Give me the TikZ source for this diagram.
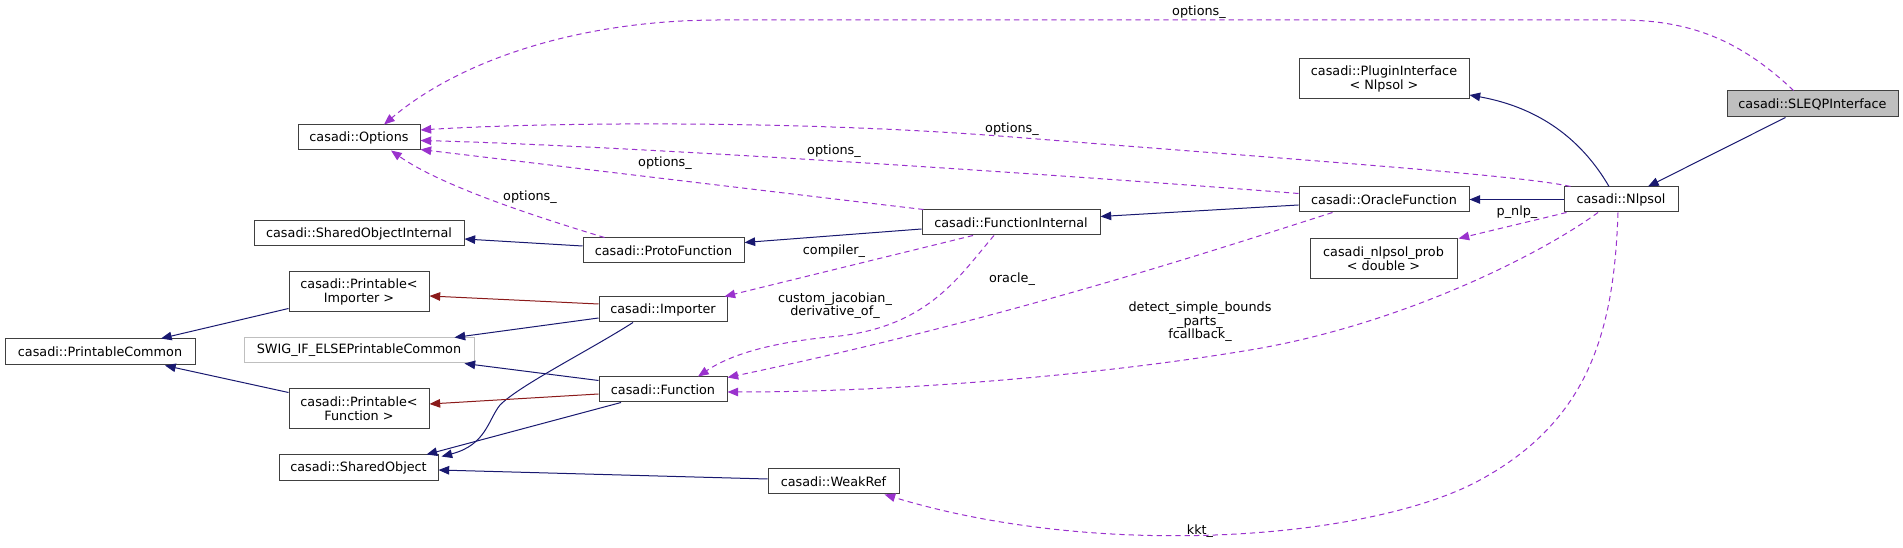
\documentclass[tikz,border=0pt]{standalone}
\usepackage{fontspec}
\setmainfont{DejaVu Sans}
\usetikzlibrary{calc,arrows.meta}

\definecolor{inhblue}{HTML}{191970}
\definecolor{tplred}{HTML}{8B1A1A}
\definecolor{usepurple}{HTML}{9A32CD}
\definecolor{swiggray}{HTML}{BFBFBF}

\tikzset{
  cls/.style={draw=black!75, fill=white, line width=0.75pt, inner sep=0pt,
              align=center, minimum height=18.75pt,
              font=\fontsize{9.6}{10.2}\selectfont},
  boxw/.style={minimum width=#1},
  lbl/.style={inner sep=0pt, align=center, font=\fontsize{9.6}{10.2}\selectfont},
  inh/.style={draw=inhblue, line width=0.75pt, -{Triangle[length=8pt,width=6.4pt]}},
  tpl/.style={inh, draw=tplred},
  usage/.style={draw=usepurple, line width=0.75pt, dash pattern=on 4pt off 3pt,
                -{Triangle[length=8pt,width=6.4pt]}}
}

\begin{document}
\begin{tikzpicture}[x=0.75pt, y=-0.75pt]
\useasboundingbox (0,0) rectangle (1903,548);

\node[cls, boxw=128.25pt, minimum height=19.5pt, fill=swiggray] (sleqp) at (1812.5,104) {casadi::SLEQPInterface};
\node[cls, boxw=127.5pt, minimum height=30pt] (plugin) at (1384,79) {casadi::PluginInterface\\< Nlpsol >};
\node[cls, boxw=85.5pt] (nlpsol) at (1621,199.5) {casadi::Nlpsol};
\node[cls, boxw=127.5pt] (oracle) at (1384,199.5) {casadi::OracleFunction};
\node[cls, boxw=110.25pt, minimum height=30pt] (prob) at (1383.5,259) {casadi\_nlpsol\_prob\\< double >};
\node[cls, boxw=133.5pt] (funcint) at (1011,222.5) {casadi::FunctionInternal};
\node[cls, boxw=91.5pt] (options) at (359,137.5) {casadi::Options};
\node[cls, boxw=157.5pt] (soi) at (359,233.5) {casadi::SharedObjectInternal};
\node[cls, boxw=120.75pt] (proto) at (663.5,250.5) {casadi::ProtoFunction};
\node[cls, boxw=105pt, minimum height=30pt] (pimp) at (359,292) {casadi::Printable<\\Importer >};
\node[cls, boxw=142.5pt, minimum height=19.5pt] (pcommon) at (100,352) {casadi::PrintableCommon};
\node[cls, boxw=172.5pt, draw=swiggray] (swig) at (359,350.5) {SWIG\_IF\_ELSEPrintableCommon};
\node[cls, boxw=96pt] (importer) at (663,309.5) {casadi::Importer};
\node[cls, boxw=96pt] (function) at (663,389.5) {casadi::Function};
\node[cls, boxw=105pt, minimum height=30pt] (pfunc) at (359,409) {casadi::Printable<\\Function >};
\node[cls, boxw=119.25pt, minimum height=19.5pt] (so) at (358.5,468) {casadi::SharedObject};
\node[cls, boxw=98.25pt] (weakref) at (833.5,481.5) {casadi::WeakRef};

\draw[inh] ($(sleqp.south)+(-27,0)$) -- ($(nlpsol.north)+(27,0)$);
\draw[inh] ($(nlpsol.north)+(-12,0)$) .. controls (1575,128) and (1525,105) .. ($(plugin.east)+(0,16)$);
\draw[inh] (nlpsol) -- (oracle);
\draw[inh] ($(oracle.west)+(0,5.5)$) -- ($(funcint.east)+(0,-6)$);
\draw[inh] ($(funcint.west)+(0,6.5)$) -- ($(proto.east)+(0,-8)$);
\draw[inh] ($(proto.west)+(0,-4.5)$) -- ($(soi.east)+(0,5.5)$);
\draw[tpl] ($(importer.west)+(0,-5.5)$) -- ($(pimp.east)+(0,4)$);
\draw[inh] ($(importer.west)+(0,8.5)$) -- ($(swig.north east)+(-20,0)$);
\draw[inh] ($(importer.south)+(-30,0)$) .. controls (590,350) and (520,385) .. (500,405)
  .. controls (488,420) and (486,445) .. ($(so.north east)+(3,2)$);
\draw[inh] ($(function.west)+(0,-9)$) -- ($(swig.south east)+(-10,0)$);
\draw[tpl] ($(function.west)+(0,4.5)$) -- ($(pfunc.east)+(0,-5)$);
\draw[inh] ($(function.south)+(-42,0)$) -- ($(so.north)+(68,0)$);
\draw[inh] ($(pimp.south west)+(0,-4)$) -- ($(pcommon.north)+(61,0)$);
\draw[inh] ($(pfunc.north west)+(0,4)$) -- ($(pcommon.south)+(65,0)$);
\draw[inh] ($(weakref.west)+(0,-2.5)$) -- ($(so.east)+(0,2)$);

\draw[usage] ($(sleqp.north)+(-19,0)$) .. controls (1740,40) and (1690,20) .. (1620,20)
  -- (720,20) .. controls (580,20) and (460,60) .. ($(options.north)+(25,0)$);
\draw[usage] ($(nlpsol.north west)+(7,0)$) .. controls (1520,175) and (1300,160) .. (1012,137)
  .. controls (800,120) and (550,122) .. ($(options.east)+(0,-7.5)$);
\draw[usage] ($(oracle.west)+(0,-6)$) .. controls (1000,170) and (600,145) .. ($(options.east)+(0,3)$);
\draw[usage] ($(funcint.north west)+(2,0)$) .. controls (800,195) and (550,165) .. ($(options.south east)+(0,-1)$);
\draw[usage] ($(proto.north west)+(22,0)$) .. controls (530,215) and (440,185) .. ($(options.south)+(32,0)$);
\draw[usage] ($(funcint.south)+(-38,0)$) -- ($(importer.north east)+(-3,0)$);
\draw[usage] ($(funcint.south)+(-17,0)$) .. controls (960,275) and (930,325) .. (840,336)
  .. controls (770,342) and (730,355) .. ($(function.north)+(35,0)$);
\draw[usage] ($(oracle.south west)+(34,0)$) .. controls (1200,255) and (1000,320) .. ($(function.north east)+(0,1)$);
\draw[usage] ($(nlpsol.south)+(-23,0)$) .. controls (1540,255) and (1400,325) .. (1250,350)
  .. controls (1100,375) and (900,392) .. ($(function.east)+(0,2.5)$);
\draw[usage] ($(nlpsol.south west)+(3,0)$) -- ($(prob.north east)+(1,0)$);
\draw[usage] ($(nlpsol.south)+(-3,0)$) .. controls (1614,330) and (1590,420) .. (1480,480)
  .. controls (1370,540) and (1100,560) .. ($(weakref.south east)+(-15,0)$);

\node[lbl] (l-top) at (1199,12) {options\_};
\node[lbl] (l-nlp) at (1012,129) {options\_};
\node[lbl] (l-orc) at (834,151) {options\_};
\node[lbl] (l-fi) at (665,163) {options\_};
\node[lbl] (l-pf) at (530,197) {options\_};
\node[lbl] (l-comp) at (834,251) {compiler\_};
\node[lbl] (l-jac) at (835,305.5) {custom\_jacobian\_\\derivative\_of\_};
\node[lbl] (l-orac) at (1012,279) {oracle\_};
\node[lbl] (l-dsb) at (1200,322) {detect\_simple\_bounds\\\_parts\_\\fcallback\_};
\node[lbl] (l-pnlp) at (1517,212) {p\_nlp\_};
\node[lbl] (l-kkt) at (1200,531) {kkt\_};
\end{tikzpicture}
\end{document}
